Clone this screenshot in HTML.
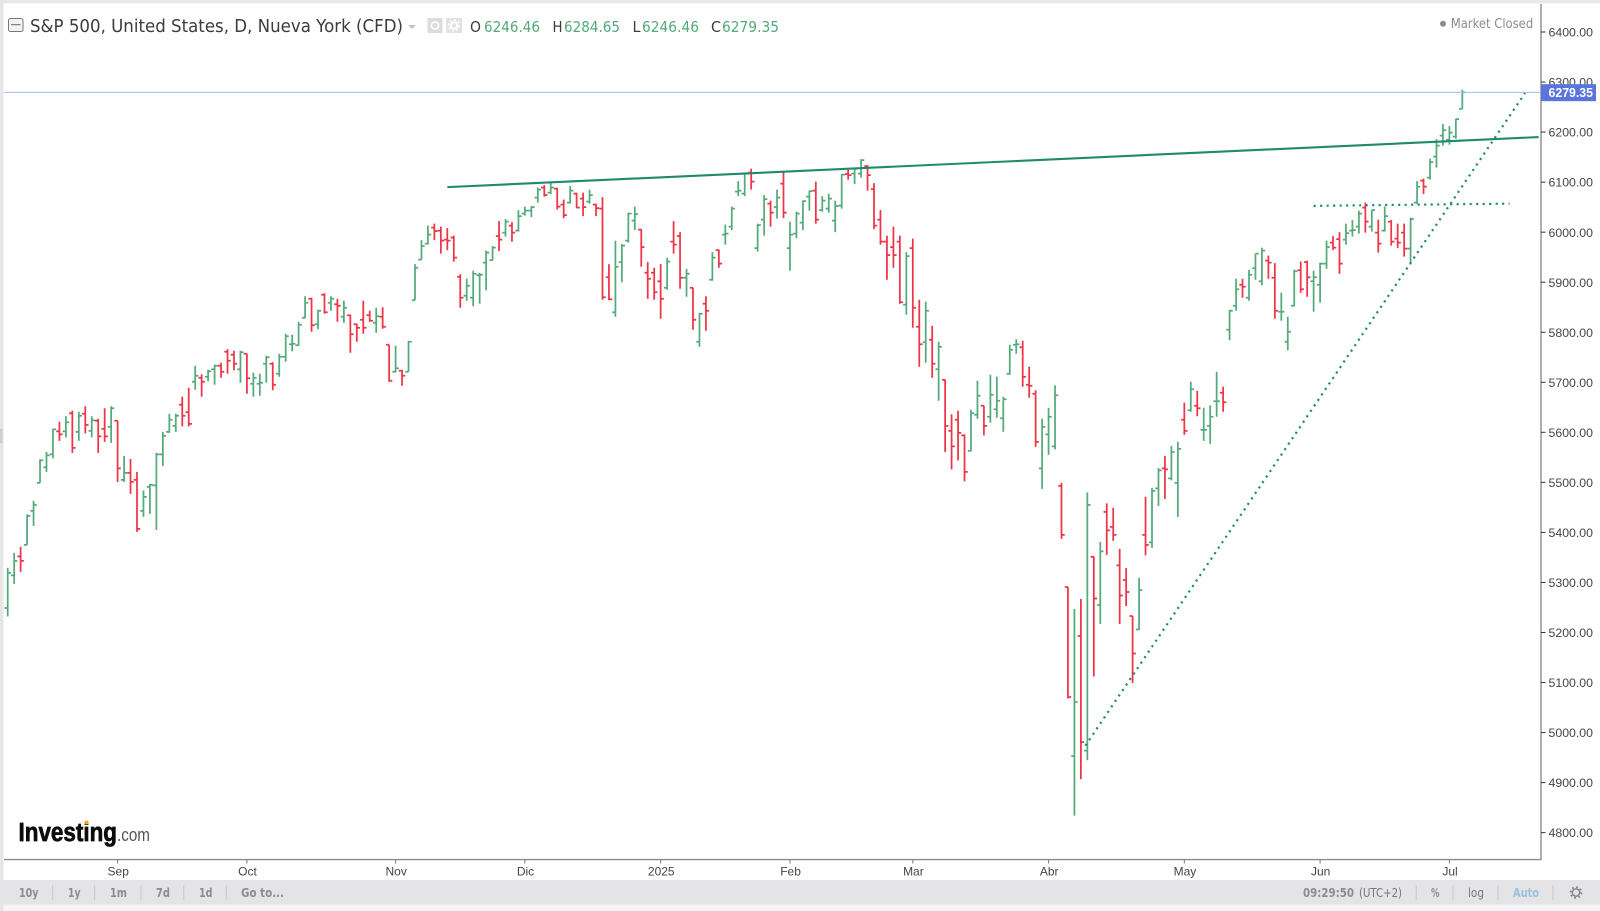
<!DOCTYPE html>
<html lang="en">
<head>
<meta charset="utf-8">
<title>S&amp;P 500 OHLC chart</title>
<style>
html,body{margin:0;padding:0;background:#fff;width:1600px;height:911px;overflow:hidden}
svg{display:block}
text{font-family:"Liberation Sans",Arial,sans-serif}
text.ui,.ui text{font-family:"DejaVu Sans","Liberation Sans",sans-serif}
</style>
</head>
<body>
<svg id="chart" xmlns="http://www.w3.org/2000/svg" width="1600" height="911" viewBox="0 0 1600 911">
  <rect x="0" y="0" width="1600" height="911" fill="#fff"/>
  <rect x="0" y="0" width="1600" height="3.5" fill="#e8e8eb"/>
  <rect x="0" y="0" width="3.5" height="911" fill="#e6e6e9"/>
  <rect x="0" y="429" width="2.5" height="14" fill="#cfcfd3"/>
  <g id="series"></g>
  <g id="drawings"></g>

  <line x1="1541" y1="4" x2="1541" y2="860" stroke="#8c8c8c" stroke-width="1.4"/>
  <line x1="4" y1="859.6" x2="1541" y2="859.6" stroke="#8c8c8c" stroke-width="1.4"/>
  <g id="y-axis"></g>
  <g id="x-axis"></g>
  <g id="last-price"></g>

  <g>
    <g>
      <rect x="8.5" y="18.5" width="14.5" height="13" rx="2" fill="#f4f4f4" stroke="#777" stroke-width="1"/>
      <line x1="11" y1="24.7" x2="20.5" y2="24.7" stroke="#666" stroke-width="1"/>
    </g>
    <text class="ui" x="30" y="32" font-size="17.5" fill="#3c3c3c" textLength="373" lengthAdjust="spacingAndGlyphs">S&amp;P 500, United States, D, Nueva York (CFD)</text>
    <path d="M408 25h8l-4 4z" fill="#c4c4c4"/>
    <g>
      <rect x="427.5" y="18" width="15" height="15" fill="#dcdcdc"/>
      <circle cx="435" cy="25.5" r="3.6" fill="none" stroke="#fff" stroke-width="1.6"/>
    </g>
    <g>
      <rect x="446" y="18" width="16" height="15" fill="#e2e2e2"/>
      <circle cx="454" cy="25.5" r="3.2" fill="none" stroke="#fff" stroke-width="2.2"/>
      <circle cx="454" cy="25.5" r="5.4" fill="none" stroke="#fff" stroke-width="1.6" stroke-dasharray="2 2.2"/>
    </g>
    <g class="ui" font-size="15.5">
      <text x="470" y="32" fill="#3c3c3c" textLength="11" lengthAdjust="spacingAndGlyphs">O</text>
      <text x="484" y="32" fill="#53a97b" textLength="56" lengthAdjust="spacingAndGlyphs">6246.46</text>
      <text x="552.5" y="32" fill="#3c3c3c" textLength="10" lengthAdjust="spacingAndGlyphs">H</text>
      <text x="564" y="32" fill="#53a97b" textLength="56" lengthAdjust="spacingAndGlyphs">6284.65</text>
      <text x="632.5" y="32" fill="#3c3c3c" textLength="8" lengthAdjust="spacingAndGlyphs">L</text>
      <text x="642" y="32" fill="#53a97b" textLength="57" lengthAdjust="spacingAndGlyphs">6246.46</text>
      <text x="711" y="32" fill="#3c3c3c" textLength="10" lengthAdjust="spacingAndGlyphs">C</text>
      <text x="722" y="32" fill="#53a97b" textLength="57" lengthAdjust="spacingAndGlyphs">6279.35</text>
    </g>
  </g>

  <g>
    <circle cx="1443" cy="23.7" r="3" fill="#8d8d8d"/>
    <text class="ui" x="1450.7" y="28" font-size="13" fill="#8c8c8c" textLength="82.5" lengthAdjust="spacingAndGlyphs">Market Closed</text>
  </g>

  <g>
    <text x="18.5" y="841" font-size="25.5" font-weight="bold" fill="#0c0c0c" stroke="#0c0c0c" stroke-width="0.7" textLength="98.5" lengthAdjust="spacingAndGlyphs">Investing</text>
    <text x="117" y="841" font-size="18" fill="#555" textLength="33" lengthAdjust="spacingAndGlyphs">.com</text>
    <circle cx="86.5" cy="822.5" r="2" fill="#f5a623"/>
  </g>

  <g>
    <rect x="3.5" y="880" width="1596.5" height="24.5" fill="#e4e4e7"/>
    <rect x="3.5" y="904.5" width="1596.5" height="6.5" fill="#f5f5f7"/>
    <g class="ui" font-size="12" font-weight="bold" fill="#8c8c90">
      <text x="19" y="897" textLength="19.5" lengthAdjust="spacingAndGlyphs">10y</text>
      <text x="68" y="897" textLength="12.5" lengthAdjust="spacingAndGlyphs">1y</text>
      <text x="110" y="897" textLength="17" lengthAdjust="spacingAndGlyphs">1m</text>
      <text x="156" y="897" textLength="14" lengthAdjust="spacingAndGlyphs">7d</text>
      <text x="199" y="897" textLength="13.5" lengthAdjust="spacingAndGlyphs">1d</text>
      <text x="241" y="897" textLength="43" lengthAdjust="spacingAndGlyphs">Go to...</text>
      <text x="1303" y="897" textLength="51" lengthAdjust="spacingAndGlyphs">09:29:50</text>
      <text x="1359" y="897" font-weight="normal" fill="#77777b" textLength="43" lengthAdjust="spacingAndGlyphs">(UTC+2)</text>
      <text x="1431" y="897" textLength="8.5" lengthAdjust="spacingAndGlyphs">%</text>
      <text x="1468" y="897" font-weight="normal" fill="#77777b" textLength="16" lengthAdjust="spacingAndGlyphs">log</text>
      <text x="1513" y="897" fill="#9cc0de" textLength="26" lengthAdjust="spacingAndGlyphs">Auto</text>
    </g>
    <g stroke="#c8c8cb" stroke-width="1">
      <line x1="52.7" y1="885" x2="52.7" y2="900"/>
      <line x1="94.7" y1="885" x2="94.7" y2="900"/>
      <line x1="141" y1="885" x2="141" y2="900"/>
      <line x1="183.7" y1="885" x2="183.7" y2="900"/>
      <line x1="226.3" y1="885" x2="226.3" y2="900"/>
      <line x1="1416.3" y1="885" x2="1416.3" y2="900"/>
      <line x1="1453" y1="885" x2="1453" y2="900"/>
      <line x1="1498" y1="885" x2="1498" y2="900"/>
      <line x1="1553" y1="885" x2="1553" y2="900"/>
    </g>
    <g>
      <circle cx="1576" cy="892.5" r="3.7" fill="none" stroke="#808084" stroke-width="1.3"/>
      <circle cx="1576" cy="892.5" r="5.4" fill="none" stroke="#808084" stroke-width="1.8" stroke-dasharray="1.7 2.54"/>
    </g>
  </g>
</svg>
<script>
var priceTicks = [6400,6300,6200,6100,6000,5900,5800,5700,5600,5500,5400,5300,5200,5100,5000,4900,4800];
var monthLabels = ["Sep","Oct","Nov","Dic","2025","Feb","Mar","Abr","May","Jun","Jul"];
var monthBars = [17,37,60,80,101,121,140,161,182,203,223];
var opens = [
5249,5314,5352,5375,5443,5499,5530,5556,5602,5602,
5638,5601,5637,5603,5623,5607,5611,5623,5505,5519,
5505,5443,5491,5494,5556,5601,5613,5655,5640,5701,
5709,5711,5726,5733,5761,5755,5726,5757,5697,5697,
5737,5737,5717,5751,5776,5774,5829,5867,5816,5875,
5859,5856,5831,5834,5816,5825,5834,5819,5831,5775,
5721,5723,5721,5864,5945,5977,6009,6003,5985,5989,
5911,5873,5869,5914,5939,5944,5992,5999,6013,6003,
6037,6043,6069,6089,6079,6087,6055,6059,6077,6067,
6061,6055,6047,5910,5840,5940,5983,6023,6005,5919,
5919,5902,5889,5981,5992,5909,5889,5781,5857,5905,
5964,5995,6011,6081,6077,6119,5968,6025,6057,6050,
6097,5968,5997,6019,6071,6083,6044,6047,6023,6053,
6116,6117,6117,6132,6086,6025,5981,5970,5981,5855,
5968,5811,5780,5785,5726,5705,5603,5625,5594,5563,
5635,5653,5631,5646,5628,5717,5775,5770,5695,5677,
5528,5596,5572,5493,5291,4953,5193,4964,5351,5255,
5441,5411,5334,5305,5233,5206,5395,5380,5488,5528,
5508,5499,5625,5644,5653,5605,5613,5662,5679,5805,
5853,5895,5869,5928,5902,5943,5909,5841,5781,5853,
5924,5940,5902,5895,5937,5979,5986,5985,6003,6011,
6049,6011,5999,6003,6021,5987,5999,5967,6059,6103,
6109,6151,6193,6185,6191,6246.46];
var highs = [
5329,5359,5371,5436,5463,5546,5561,5607,5621,5632,
5643,5641,5652,5632,5627,5648,5652,5623,5553,5547,
5521,5484,5497,5559,5601,5637,5637,5671,5689,5733,
5716,5725,5735,5739,5766,5763,5763,5757,5719,5717,
5753,5740,5757,5797,5795,5821,5872,5869,5845,5878,
5872,5867,5863,5835,5817,5863,5843,5849,5850,5775,
5773,5725,5783,5936,5984,6013,6017,6011,6008,5993,
5916,5907,5923,5919,5963,5972,6022,6026,6020,6044,
6051,6052,6089,6094,6099,6089,6065,6092,6079,6079,
6085,6057,6070,5936,5983,5976,6039,6051,6006,5940,
5929,5936,5949,6022,6000,5927,5889,5839,5872,5960,
5965,6015,6051,6102,6119,6127,6017,6074,6063,6085,
6121,6021,6041,6063,6083,6101,6072,6077,6063,6116,
6127,6129,6146,6134,6098,6044,5993,6011,5993,5960,
5987,5865,5861,5813,5781,5705,5636,5643,5596,5645,
5703,5653,5715,5711,5671,5775,5786,5783,5731,5684,
5627,5649,5694,5499,5291,5247,5267,5480,5352,5381,
5458,5449,5367,5329,5233,5309,5471,5489,5529,5553,
5573,5581,5659,5701,5683,5649,5654,5721,5691,5845,
5907,5907,5925,5957,5969,5953,5938,5879,5831,5925,
5941,5943,5923,5939,5983,5992,6000,6017,6024,6043,
6059,6045,6025,6051,6024,6017,6017,6029,6102,6107,
6147,6186,6216,6212,6227,6284.65];
var lows = [
5232,5297,5321,5375,5413,5499,5521,5548,5583,5590,
5559,5583,5598,5590,5559,5581,5579,5501,5501,5477,
5401,5431,5437,5405,5533,5599,5601,5612,5612,5685,
5671,5702,5695,5709,5717,5724,5699,5677,5671,5673,
5699,5684,5711,5741,5762,5773,5828,5801,5806,5837,
5843,5821,5819,5759,5781,5797,5821,5799,5807,5701,
5720,5693,5721,5864,5945,5975,5984,5957,5964,5941,
5849,5863,5852,5857,5884,5943,5962,5991,5981,6001,
6033,6030,6059,6071,6076,6045,6028,6057,6048,6032,
6057,6032,5865,5864,5831,5900,5979,6004,5931,5867,
5865,5827,5885,5957,5887,5871,5805,5771,5803,5903,
5929,5975,6004,6072,6072,6085,5961,5993,6011,6027,
6028,5923,5988,6004,6043,6017,6041,6039,6000,6047,
6105,6096,6109,6083,6006,5975,5905,5929,5857,5835,
5809,5731,5739,5709,5663,5561,5526,5544,5502,5562,
5627,5594,5619,5629,5601,5715,5757,5691,5669,5571,
5487,5555,5566,5387,5068,4834,4907,4945,5112,5217,
5355,5383,5217,5253,5099,5205,5354,5369,5453,5467,
5504,5431,5595,5641,5632,5583,5577,5631,5641,5784,
5843,5869,5863,5905,5894,5907,5827,5823,5764,5852,
5879,5871,5841,5859,5927,5964,5917,5975,5991,5997,
5999,6001,5959,6001,5973,5968,5951,5935,6056,6076,
6105,6129,6173,6175,6187,6246.46];
var closes = [
5319,5343,5343,5433,5455,5544,5554,5606,5596,5620,
5569,5633,5615,5624,5592,5592,5648,5528,5519,5501,
5407,5471,5495,5556,5593,5625,5633,5633,5617,5713,
5701,5722,5733,5721,5743,5737,5760,5708,5709,5699,
5750,5695,5751,5792,5777,5815,5859,5814,5843,5840,
5867,5853,5849,5796,5809,5809,5823,5832,5811,5703,
5728,5713,5781,5929,5972,5995,6002,5983,5983,5949,
5869,5893,5917,5915,5959,5969,5985,6021,5999,6032,
6043,6050,6085,6074,6089,6051,6034,6083,6049,6050,
6074,6048,5870,5866,5931,5973,6037,6036,5970,5907,
5880,5867,5941,5975,5909,5917,5825,5837,5843,5949,
5937,5997,6047,6083,6117,6101,6014,6066,6039,6069,
6039,5995,6037,6062,6082,6025,6063,6067,6052,6115,
6114,6127,6144,6114,6013,5981,5954,5954,5860,5952,
5849,5776,5843,5737,5771,5613,5572,5599,5521,5638,
5673,5613,5675,5663,5666,5765,5776,5711,5693,5581,
5611,5631,5674,5395,5071,5061,4981,5455,5268,5362,
5404,5395,5274,5281,5158,5285,5375,5483,5524,5526,
5561,5567,5603,5686,5648,5605,5631,5662,5660,5843,
5886,5891,5915,5957,5963,5939,5843,5841,5801,5922,
5886,5910,5910,5937,5970,5969,5937,5998,6004,6037,
6021,6044,5977,6032,5981,5979,5967,6026,6091,6091,
6140,6173,6204,6199,6226,6279.35];
var resistanceBars = [68,236.8];
var resistancePrices = [6090,6190];
var supportBars = [166.7,234.7];
var supportPrices = [4974,6278];
var breakoutBars = [202,232.3];
var breakoutPrices = [6052.6,6057];
var lastPrice = 6279.35;

var NS = "http://www.w3.org/2000/svg";
function xScale(i){ return 7.7 + i * 6.465; }
function yScale(p){ return 32 + (6400 - p) * 0.5004; }
function make(tag, parent, attrs){
  var el = document.createElementNS(NS, tag);
  for (var k in attrs) el.setAttribute(k, attrs[k]);
  parent.appendChild(el);
  return el;
}

var seriesG = document.getElementById("series");
for (var i = 0; i < closes.length; i++) {
  var bx = xScale(i);
  var d = "M" + bx + " " + yScale(highs[i]) + "V" + yScale(lows[i]) +
          "M" + (bx - 3.2) + " " + yScale(opens[i]) + "H" + bx +
          "M" + bx + " " + yScale(closes[i]) + "H" + (bx + 3.2);
  var bar = make("path", seriesG, {
    d: d, fill: "none", "stroke-width": 1.75,
    stroke: closes[i] >= opens[i] ? "#55aa7c" : "#ef3446"
  });
  
  
}

var drawingsG = document.getElementById("drawings");
var resistance = make("line", drawingsG, {
  x1: xScale(resistanceBars[0]), y1: yScale(resistancePrices[0]),
  x2: xScale(resistanceBars[1]), y2: yScale(resistancePrices[1]),
  stroke: "#1f8a6c", "stroke-width": 2.1
});


var support = make("line", drawingsG, {
  x1: xScale(supportBars[0]), y1: yScale(supportPrices[0]),
  x2: xScale(supportBars[1]), y2: yScale(supportPrices[1]),
  stroke: "#1f8a6c", "stroke-width": 2.2, "stroke-dasharray": "2.1 4.5"
});


var breakout = make("line", drawingsG, {
  x1: xScale(breakoutBars[0]), y1: yScale(breakoutPrices[0]),
  x2: xScale(breakoutBars[1]), y2: yScale(breakoutPrices[1]),
  stroke: "#1f8a6c", "stroke-width": 2.2, "stroke-dasharray": "2.1 4.4"
});



var yAxisG = document.getElementById("y-axis");
priceTicks.forEach(function(p){
  var ty = yScale(p);
  var tick = make("line", yAxisG, {x1: 1541, x2: 1545.5, y1: ty, y2: ty, stroke: "#333", "stroke-width": 1});
  
  
  var label = make("text", yAxisG, {x: 1548.5, y: ty + 4.6, "font-size": 12.3, fill: "#454545", textLength: 44.5, lengthAdjust: "spacingAndGlyphs"});
  label.textContent = p.toFixed(2);
  
  
});

var xAxisG = document.getElementById("x-axis");
monthLabels.forEach(function(m, idx){
  var tx = xScale(monthBars[idx]);
  var tick = make("line", xAxisG, {x1: tx, x2: tx, y1: 860, y2: 863.5, stroke: "#777", "stroke-width": 1});
  
  
  var label = make("text", xAxisG, {x: tx + 0.6, y: 875.5, "font-size": 12, fill: "#454545", "text-anchor": "middle"});
  label.textContent = m;
  
  
});

var lastG = document.getElementById("last-price");
var lastY = yScale(lastPrice);
var lastLine = make("line", lastG, {x1: 4, x2: 1541, y1: lastY, y2: lastY, stroke: "#a9b9f0", "stroke-width": 1});


var lastBox = make("rect", lastG, {x: 1541, y: lastY - 8.2, width: 55, height: 17, fill: "#5a75dc"});


var lastText = make("text", lastG, {x: 1548.5, y: lastY + 4.6, "font-size": 12.5, "font-weight": "bold", fill: "#fff", textLength: 44.5, lengthAdjust: "spacingAndGlyphs"});
lastText.textContent = lastPrice.toFixed(2);


</script>
</body>
</html>
